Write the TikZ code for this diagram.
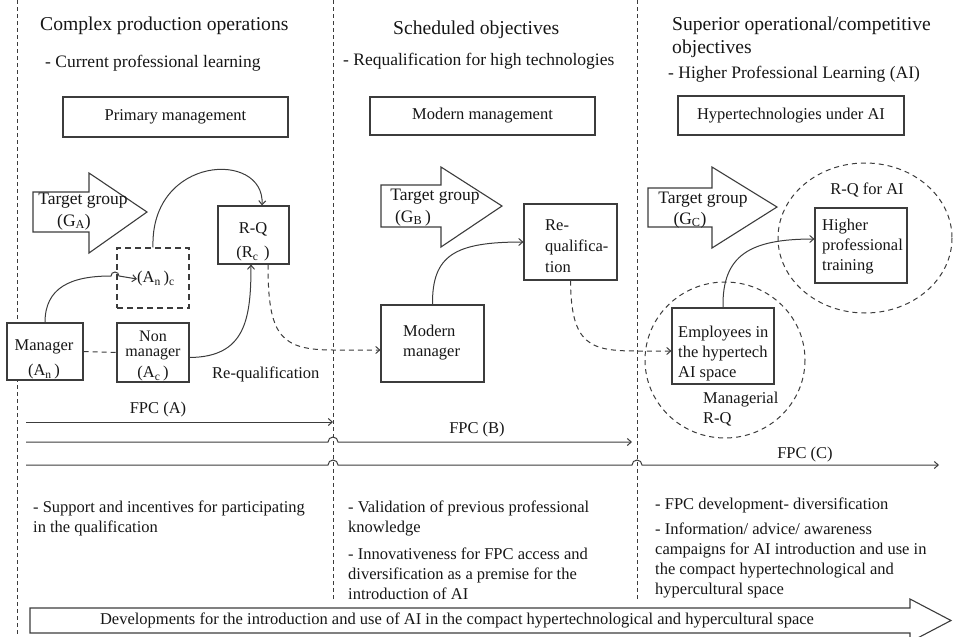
\documentclass[tikz,border=0pt]{standalone}
\usepackage{fontspec}
\setmainfont{Liberation Serif}
\usetikzlibrary{arrows.meta}
\definecolor{ln}{HTML}{3C3C3C}
\definecolor{tx}{HTML}{161616}
\begin{document}
\begin{tikzpicture}[x=1pt,y=-1pt,
  every node/.style={text=tx, font=\fontsize{16.5}{20}\selectfont, inner sep=0pt},
  hdr/.style={font=\fontsize{19.6}{23}\selectfont, anchor=base west},
  sub/.style={font=\fontsize{17.5}{21}\selectfont, anchor=base west},
  tg/.style={font=\fontsize{17.5}{21}\selectfont},
  vline/.style={draw=ln, line width=0.9pt, dash pattern=on 4pt off 3pt},
  box/.style={draw=ln, line width=1.1pt, rectangle, fill=white},
  dbox/.style={box, dash pattern=on 6pt off 4pt},
  con/.style={draw=ln, line width=1pt},
  dcon/.style={con, dash pattern=on 5pt off 4pt},
  tip/.style={-{Straight Barb[length=4pt,width=7pt]}},
  bigarr/.style={draw=ln, line width=1.1pt, fill=white},
  circ/.style={draw=ln, line width=1pt, dash pattern=on 5pt off 4pt},
  ml/.style={align=left, anchor=west},
]
\useasboundingbox (0,0) rectangle (953,637);

% ---------- column separators
\draw[vline] (17,0) -- (17,637);
\draw[vline] (333,0) -- (333,600);
\draw[vline] (637,0) -- (637,600);

% ---------- headers
\node[hdr] (hdrA) at (40,30) {Complex production operations};
\node[sub] (subA) at (45,67) {- Current professional learning};
\node[hdr] (hdrB) at (393,34) {Scheduled objectives};
\node[sub] (subB) at (343,65) {- Requalification for high technologies};
\node[hdr] (hdrC1) at (672,30) {Superior operational/competitive};
\node[hdr] (hdrC2) at (672,53) {objectives};
\node[sub] (subC) at (668,78) {- Higher Professional Learning (AI)};

\node[box, minimum width=225, minimum height=40] (pm) at (175.5,117) {Primary management};
\node[box, minimum width=225, minimum height=38] (mg) at (482.5,116) {Modern management};
\node[box, minimum width=226, minimum height=39] (hy) at (791,115.5) {Hypertechnologies under AI};

% ---------- target group arrows
\draw[bigarr] (33,192) -- (89,192) -- (89,173) -- (147,212) -- (89,253) -- (89,232) -- (33,232) -- cycle;
\node[tg] (tgA) at (83,201) {Target group};
\node[tg] (gA) at (74,222) {(G\textsubscript{A})};
\draw[bigarr] (381,185) -- (441,185) -- (441,167) -- (502,206) -- (441,247) -- (441,227) -- (381,227) -- cycle;
\node[tg] (tgB) at (435,197) {Target group};
\node[tg] (gB) at (413,218) {(G\textsubscript{B}\,)};
\draw[bigarr] (648,188) -- (712,188) -- (712,167) -- (777,207) -- (712,248) -- (712,227) -- (648,227) -- cycle;
\node[tg] (tgC) at (703,200) {Target group};
\node[tg] (gC) at (690,220) {(G\textsubscript{C})};

% ---------- circles (column C)
\draw[circ] (865,238) ellipse [x radius=87, y radius=75];
\draw[circ] (725,360) ellipse [x radius=80, y radius=78];

% ---------- column A boxes
\node[dbox, minimum width=72, minimum height=60] (anc) at (153,278) {};
\node[anchor=west] (anct) at (137,279) {(A\textsubscript{n}\,)\textsubscript{c}};
\node[box, minimum width=71, minimum height=58] (rq) at (253.5,235) {};
\node (rqt1) at (253,229) {R-Q};
\node (rqt2) at (253,254) {(R\textsubscript{c}\,\,)};
\node[box, minimum width=76, minimum height=57] (mgr) at (45,351.5) {};
\node (mgrt1) at (44,347) {Manager};
\node (mgrt2) at (44,372) {(A\textsubscript{n}\,)};
\node[box, minimum width=72, minimum height=59] (nm) at (153,352.5) {};
\node[font=\fontsize{16}{19}\selectfont] (nmt1) at (153,336) {Non};
\node[font=\fontsize{16}{19}\selectfont] (nmt2) at (153,354.5) {manager};
\node (nmt3) at (153,374) {(A\textsubscript{c}\,)};
\node[anchor=base west] (rql) at (212,378) {Re-qualification};

% ---------- column B boxes
\node[box, minimum width=93, minimum height=76] (rqb) at (570.5,242) {};
\node[ml, font=\fontsize{16.5}{21}\selectfont] (rqbt) at (545,246) {Re-\\qualifica-\\tion};
\node[box, minimum width=103, minimum height=77] (mm) at (432.5,343.5) {};
\node[ml] (mmt) at (403,343) {Modern\\manager};

% ---------- column C boxes
\node[box, minimum width=92, minimum height=75] (hp) at (861,245.5) {};
\node[ml] (hpt) at (822,247) {Higher\\professional\\training};
\node[box, minimum width=102, minimum height=76] (emp) at (723,346) {};
\node[ml] (empt) at (678,354) {Employees in\\the hypertech\\AI space};
\node (rqai) at (867,190) {R-Q for AI};
\node[ml] (mrq) at (703,409) {Managerial\\R-Q};

% ---------- connectors
\coordinate (j1) at (0,350);
\coordinate (j2) at (0,351);
\draw[dcon] (mgr.east) -- (nm.west);
\draw[con, tip] (mgr.north) .. controls (45,288) and (70,276) .. (111,276)
   arc[start angle=180, end angle=360, radius=4] -- (anct.west);
\draw[con, tip] (anc.north) .. controls (150,155) and (265,150) .. ([xshift=8.5pt]rq.north);
\draw[con, tip] ([yshift=-5pt]nm.east) .. controls (245,357) and (251,320) .. ([xshift=-2.5pt]rq.south);
\draw[dcon, tip] ([xshift=14.5pt]rq.south) .. controls (268,335) and (280,350) .. (333,350) -- (mm.west |- j1);
\draw[con, tip] (mm.north) .. controls (432,255) and (455,242) .. (rqb.west);
\draw[dcon, tip] (rqb.south) .. controls (571,345) and (590,351) .. (637,351) -- (emp.west |- j2);
\draw[con, tip] (emp.north) .. controls (722,255) and (750,239) .. ([yshift=6.5pt]hp.west);

% ---------- FPC lines
\coordinate (fa0) at (26,422); \coordinate (fa1) at (333,422);
\coordinate (fb0) at (26,442); \coordinate (fb1) at (632,442);
\coordinate (fc0) at (26,465); \coordinate (fc1) at (939,465);
\node (fpca) at (158,410) {FPC (A)};
\node (fpcb) at (477,430) {FPC (B)};
\node (fpcc) at (805,455) {FPC (C)};
\draw[con, tip] (fa0) -- (fa1);
\draw[con, tip] (fb0) -- (328,442) arc[start angle=180, end angle=360, radius=5] -- (fb1);
\draw[con, tip] (fc0) -- (328,465) arc[start angle=180, end angle=360, radius=5]
   -- (632,465) arc[start angle=180, end angle=360, radius=5] -- (fc1);

% ---------- bottom texts
\node[ml] (botA) at (33,518) {- Support and incentives for participating\\in the qualification};
\node[ml] (botB1) at (348,518) {- Validation of previous professional\\knowledge};
\node[ml] (botB2) at (348,574) {- Innovativeness for FPC access and\\diversification as a premise for the\\introduction of AI};
\node[ml] (botC1) at (655,505) {- FPC development- diversification};
\node[ml] (botC2) at (655,560) {- Information/ advice/ awareness\\campaigns for AI introduction and use in\\the compact hypertechnological and\\hypercultural space};

% ---------- bottom arrow
\draw[bigarr] (30,608) -- (910,608) -- (910,599) -- (951,620.5) -- (910,642) -- (910,633) -- (30,633) -- cycle;
\node (dev) at (457,620) {Developments for the introduction and use of AI in the compact hypertechnological and hypercultural space};
\end{tikzpicture}
\end{document}
